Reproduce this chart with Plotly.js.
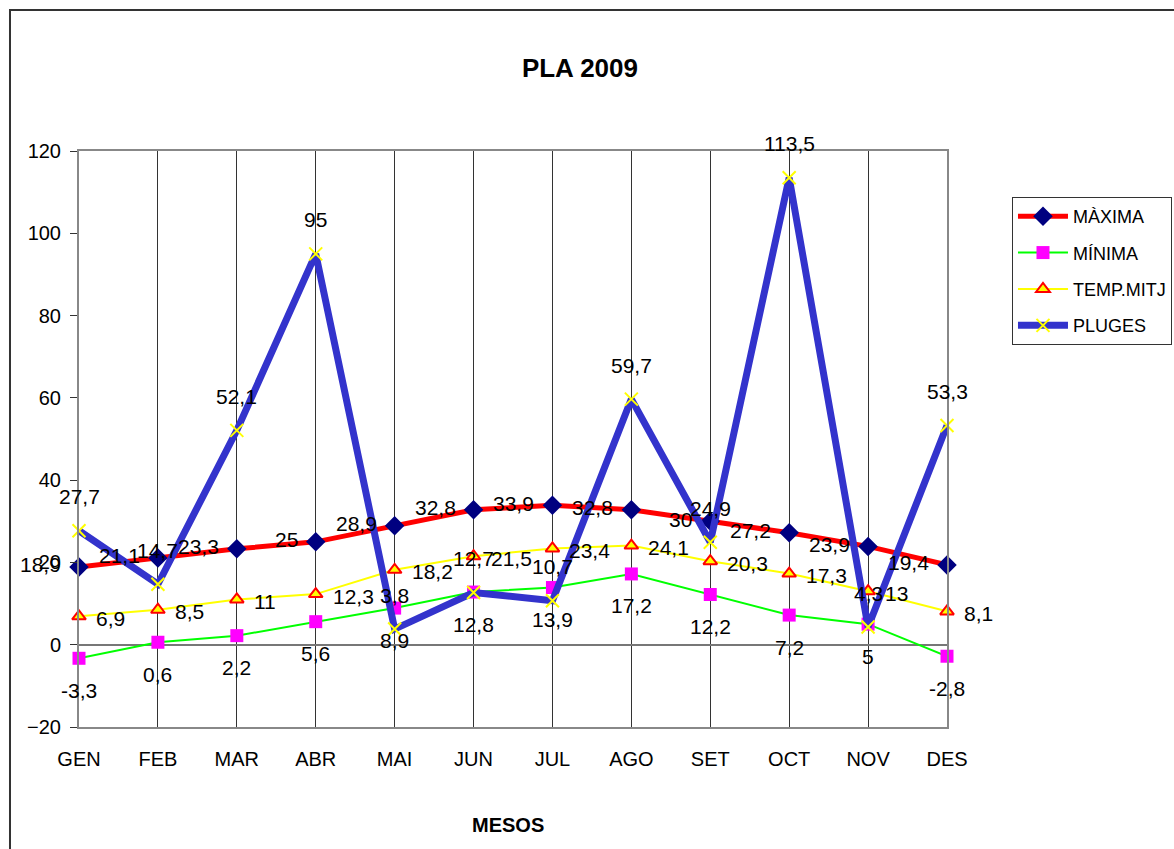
<!DOCTYPE html>
<html>
<head>
<meta charset="utf-8">
<script src="https://cdn.plot.ly/plotly-3.0.1.min.js"></script>
<style>html,body{margin:0;padding:0;background:#fff;}#chart{width:1174px;height:849px;}</style>
</head>
<body>
<div id="chart"></div>
<script>
const months = ["GEN","FEB","MAR","ABR","MAI","JUN","JUL","AGO","SET","OCT","NOV","DES"];
const maxima = [18.9, 21.1, 23.3, 25, 28.9, 32.8, 33.9, 32.8, 30, 27.2, 23.9, 19.4];
const minima = [-3.3, 0.6, 2.2, 5.6, 8.9, 12.8, 13.9, 17.2, 12.2, 7.2, 5, -2.8];
const tempMitj = [6.9, 8.5, 11, 12.3, 18.2, 21.5, 23.4, 24.1, 20.3, 17.3, 13, 8.1];
const pluges = [27.7, 14.7, 52.1, 95, 3.8, 12.7, 10.7, 59.7, 24.9, 113.5, 4.3, 53.3];

const FONT = "Liberation Sans, Arial, sans-serif";
const fmt = v => String(v).replace('.', ',');
const lblFont = {family: FONT, size: 21, color: '#000'};

const traces = [
  {name: 'MÀXIMA', x: months, y: maxima, mode: 'lines+markers', cliponaxis: false, legendgroup: 'a',
   line: {color: '#FF0000', width: 5},
   marker: {symbol: 'diamond', size: 15, color: '#000080', line: {width: 0}}},
  {name: 'MÍNIMA', x: months, y: minima, mode: 'lines+markers', cliponaxis: false, legendgroup: 'b',
   line: {color: '#00FF00', width: 2},
   marker: {symbol: 'square', size: 13, color: '#FF00FF', line: {width: 0}}},
  {name: 'TEMP.MITJ', x: months, y: tempMitj, mode: 'lines+markers', cliponaxis: false, legendgroup: 'c',
   line: {color: '#FFFF00', width: 2},
   marker: {symbol: 'triangle-up', size: 12, color: '#FFFF00', line: {color: '#FF0000', width: 2}}},
  {name: 'PLUGES', x: months, y: pluges, mode: 'lines+markers', cliponaxis: false, legendgroup: 'd',
   line: {color: '#3333CC', width: 7},
   marker: {symbol: 'x-thin-open', size: 13, color: '#FFFF00', line: {color: '#FFFF00', width: 2}}}
];

// data labels, positioned relative to each point through the axes
const labelSpecs = [
  {vals: maxima,   xanchor: 'right',  xshift: -17, yshift: 2},
  {vals: minima,   xanchor: 'center', xshift: 0,   yshift: -32},
  {vals: tempMitj, xanchor: 'left',   xshift: 16,  yshift: -2},
  {vals: pluges,   xanchor: 'center', xshift: 0,   yshift: 34}
];
const annotations = [];
labelSpecs.forEach(s => {
  s.vals.forEach((v, i) => {
    annotations.push({x: months[i], y: v, xref: 'x', yref: 'y', text: fmt(v), showarrow: false,
      xanchor: s.xanchor, yanchor: 'middle', xshift: s.xshift, yshift: s.yshift,
      font: lblFont, borderpad: 0});
  });
});
annotations.push({text: '<b>MESOS</b>', xref: 'paper', yref: 'paper', x: 0.4937, y: -0.170,
  xanchor: 'center', yanchor: 'middle', showarrow: false,
  font: {family: FONT, size: 20, color: '#000'}});

const layout = {
  width: 1174, height: 849,
  margin: {l: 79, r: 227, t: 151, b: 122, pad: 0, autoexpand: false},
  paper_bgcolor: '#fff', plot_bgcolor: '#fff',
  font: {family: FONT, size: 20, color: '#000'},
  showlegend: true,
  title: {text: '<b>PLA 2009</b>', font: {family: FONT, size: 26, color: '#000'},
          xref: 'container', yref: 'container', x: 0.494, xanchor: 'center', y: 0.92, yanchor: 'middle'},
  xaxis: {type: 'category', range: [0, 11], autorange: false, fixedrange: true, automargin: false,
          showgrid: true, gridcolor: '#333', gridwidth: 1,
          showline: true, mirror: true, linecolor: '#888', linewidth: 2,
          ticks: '', ticklabelstandoff: 13, tickfont: {family: FONT, size: 20, color: '#000'},
          zeroline: false},
  yaxis: {range: [-20, 120], autorange: false, dtick: 20, fixedrange: true, automargin: false,
          showgrid: false, zeroline: true, zerolinecolor: '#777', zerolinewidth: 2,
          showline: true, mirror: true, linecolor: '#888', linewidth: 2,
          ticks: 'outside', ticklen: 7, tickcolor: '#333', tickwidth: 1, ticklabelstandoff: 5,
          tickfont: {family: FONT, size: 20, color: '#000'}},
  legend: {x: 0.862, y: 0.768, xanchor: 'left', yanchor: 'top', xref: 'container', yref: 'container',
           bordercolor: '#333', borderwidth: 1, bgcolor: '#fff',
           font: {family: FONT, size: 18, color: '#000'},
           traceorder: 'grouped', tracegroupgap: 10, itemwidth: 50, itemclick: false},
  annotations: annotations,
  shapes: [
    {type: 'rect', xref: 'paper', yref: 'paper', x0: -0.0795, x1: 2, y0: -1, y1: 1.2448,
     line: {color: '#333', width: 2}, fillcolor: 'rgba(0,0,0,0)', layer: 'below'}
  ]
};

Plotly.newPlot('chart', traces, layout, {displayModeBar: false, staticPlot: true});
</script>
</body>
</html>
